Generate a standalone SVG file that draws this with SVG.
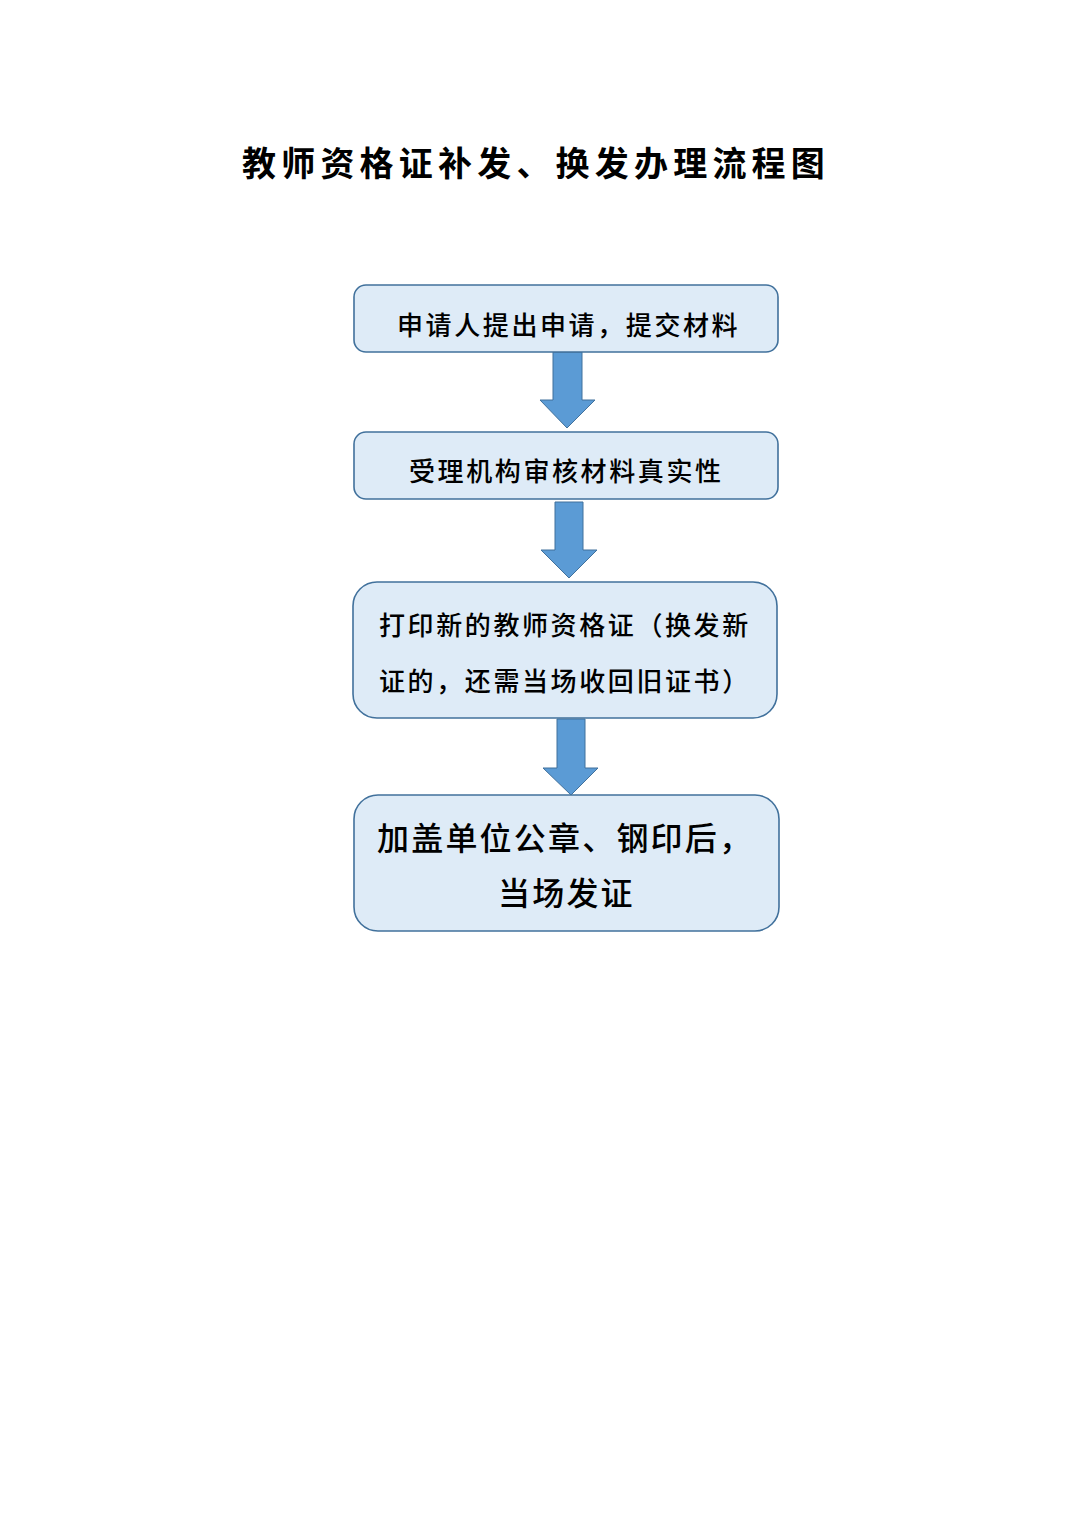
<svg xmlns="http://www.w3.org/2000/svg" width="1074" height="1520" viewBox="0 0 1074 1520">
<style>
.box{fill:#DEEBF7;stroke:#41719C;stroke-width:1.6}
.arr{fill:#5B9BD5;stroke:#41719C;stroke-width:1}
.t{font-family:"Noto Sans CJK SC","Noto Sans",sans-serif;fill:#000;font-weight:500}
.s{font-size:26px;letter-spacing:2.6px}
.b{font-size:32px;letter-spacing:2.2px}
.title{font-size:34px;letter-spacing:5.2px;font-weight:700}
</style>
<rect width="1074" height="1520" fill="#fff"/>
<g id="title"><text class="t title" x="242" y="176">教师资格证补发、换发办理流程图</text></g>
<g id="connectors">
<path class="arr" d="M553,352 H582 V400 H595 L567,428 L540,400 H553 Z"/>
<path class="arr" d="M555,502 H583 V550 H597 L569,578 L541,550 H555 Z"/>
<path class="arr" d="M557,719 H585 V768 H598 L571,795 L543,768 H557 Z"/>
</g>
<g id="node1"><rect class="box" x="354" y="285" width="424" height="67" rx="12"/><text class="t s" x="397" y="335">申请人提出申请，提交材料</text></g>
<g id="node2"><rect class="box" x="354" y="432" width="424" height="67" rx="12"/><text class="t s" x="409" y="481">受理机构审核材料真实性</text></g>
<g id="node3"><rect class="box" x="353" y="582" width="424" height="136" rx="24"/><text class="t s" x="379" y="635">打印新的教师资格证（换发新</text><text class="t s" x="379" y="691">证的，还需当场收回旧证书）</text></g>
<g id="node4"><rect class="box" x="354" y="795" width="425" height="136" rx="24"/><text class="t b" x="377" y="850">加盖单位公章、钢印后，</text><text class="t b" x="498" y="905">当场发证</text></g>
</svg>
